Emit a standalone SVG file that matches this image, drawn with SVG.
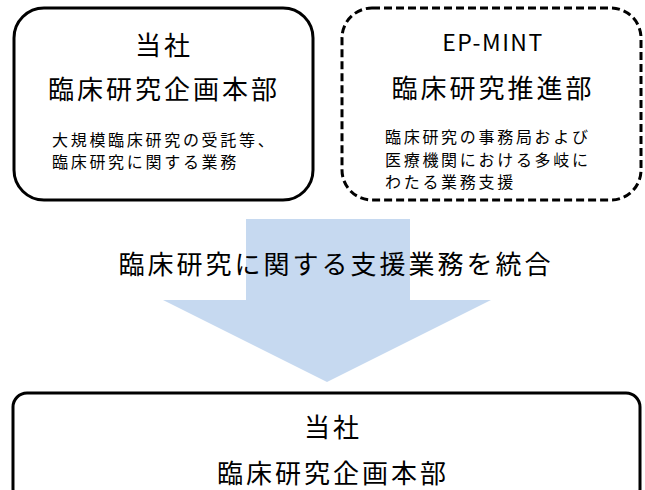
<svg xmlns="http://www.w3.org/2000/svg" width="645" height="490" viewBox="0 0 645 490">
<style>
.box{fill:#fff;stroke:#000;stroke-width:3}
.dash{stroke-dasharray:8 4}
text{font-family:"Noto Sans CJK JP","Noto Sans",sans-serif;fill:#000;dominant-baseline:central}
.big{font-size:26px;letter-spacing:3px;text-anchor:middle}
.latin{font-size:23px;letter-spacing:1.5px;text-anchor:middle}
.small{font-size:16px;letter-spacing:2.7px}
</style>
<rect width="645" height="490" fill="#fff"/>
<g id="connectors">
<polygon points="246,219 410,219 410,300 491,300 327,382 163,300 246,300" fill="#c6d9f0"/>
</g>
<text class="big" x="336" y="262">臨床研究に関する支援業務を統合</text>
<g id="node-current">
<rect class="box" x="14" y="8" width="299" height="192" rx="30"/>
<text class="big" x="164" y="43">当社</text>
<text class="big" x="164" y="87">臨床研究企画本部</text>
<text class="small" x="52" y="139">大規模臨床研究の受託等、</text>
<text class="small" x="52" y="161">臨床研究に関する業務</text>
</g>
<g id="node-epmint">
<rect class="box dash" x="342" y="8" width="299" height="192" rx="30"/>
<text class="latin" x="493" y="41">EP-MINT</text>
<text class="big" x="493" y="86">臨床研究推進部</text>
<text class="small" x="385" y="136">臨床研究の事務局および</text>
<text class="small" x="385" y="158.5">医療機関における多岐に</text>
<text class="small" x="385" y="181">わたる業務支援</text>
</g>
<g id="node-merged">
<rect class="box" x="13" y="393" width="627" height="110" rx="14"/>
<text class="big" x="333" y="425">当社</text>
<text class="big" x="333" y="471">臨床研究企画本部</text>
</g>
</svg>
